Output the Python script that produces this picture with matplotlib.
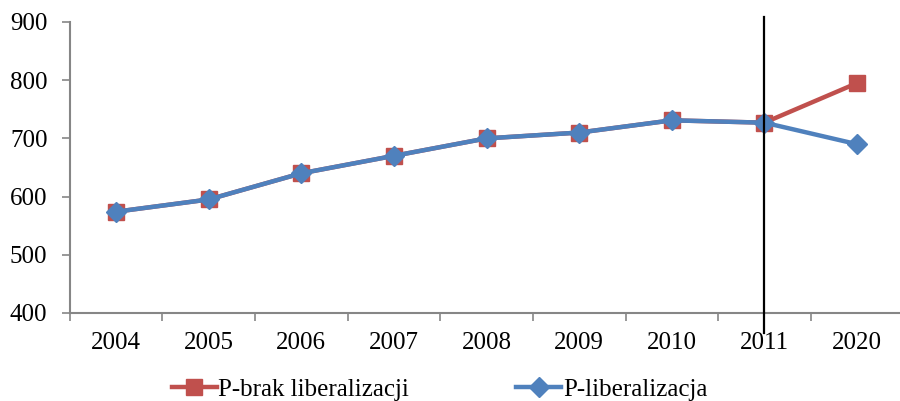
import matplotlib
matplotlib.use("Agg")
import matplotlib.pyplot as plt
import numpy as np

plt.rcParams["font.family"] = ["Liberation Serif", "DejaVu Serif"]

years = ["2004", "2005", "2006", "2007", "2008", "2009", "2010", "2011", "2020"]
p_brak = [574, 595, 640, 670, 700, 710, 731, 727, 795]
p_lib = [574, 595, 640, 670, 700, 710, 731, 727, 690]
y_ticks = [400, 500, 600, 700, 800, 900]
split_year = "2011"

RED = "#C0504D"
BLUE = "#4F81BD"
AXIS = "#868686"
FS = 18

fig = plt.figure(figsize=(9, 4.01), dpi=100)
ax = fig.add_axes([0.0774, 0.2195, 0.9264, 0.7257])

x = np.arange(len(years))
ax.plot(x, p_brak, color=RED, lw=3.2, marker="s", ms=11.5, mec=RED,
        label="P-brak liberalizacji", zorder=3)
ax.plot(x, p_lib, color=BLUE, lw=3.2, marker="D", ms=10, mec=BLUE,
        label="P-liberalizacja", zorder=4)

# vertical marker line, running a little past the plot area
xs = years.index(split_year)
ax.axvline(xs, ymin=-0.069, ymax=1.017, color="black", lw=1.6,
           clip_on=False, zorder=5)

ax.set_xlim(-0.5, len(years) - 0.5)
ax.set_ylim(400, 900)
ax.set_yticks(y_ticks)
ax.set_xticks(x)
ax.set_xticklabels(years)
ax.set_xticks(np.arange(len(years) + 1) - 0.5, minor=True)

for side in ("top", "right"):
    ax.spines[side].set_visible(False)
for side in ("left", "bottom"):
    ax.spines[side].set_color(AXIS)
    ax.spines[side].set_linewidth(1.5)

ax.tick_params(axis="y", direction="out", length=6, width=1.2, color=AXIS,
               labelsize=FS, pad=10)
ax.tick_params(axis="x", which="major", length=0, labelsize=FS, pad=14)
ax.tick_params(axis="x", which="minor", direction="out", length=6, width=1.2,
               color=AXIS)

fig.legend(loc="center", bbox_to_anchor=(0.4883, 0.0275), ncol=2, frameon=False,
           fontsize=FS, handlelength=1.8, handletextpad=0.05,
           columnspacing=4.3)

fig.savefig("out.png", dpi=100)
